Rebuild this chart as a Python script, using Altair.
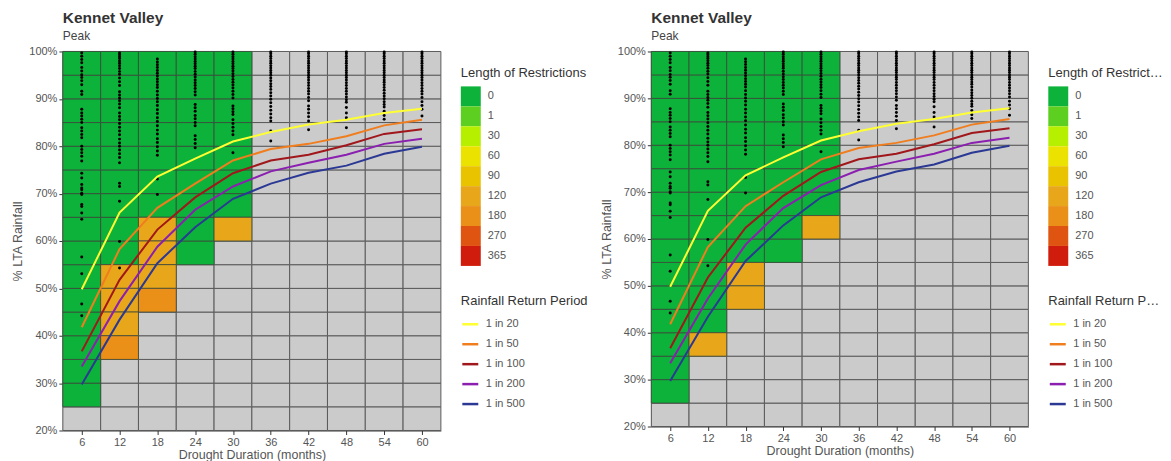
import altair as alt
import pandas as pd

FONT = "Liberation Sans"

durations = [6, 12, 18, 24, 30, 36, 42, 48, 54, 60]
pct_levels = [20, 25, 30, 35, 40, 45, 50, 55, 60, 65, 70, 75, 80, 85, 90, 95]
y_ticks = [20, 25, 30, 35, 40, 45, 50, 55, 60, 65, 70, 75, 80, 85, 90, 95, 100]

restriction_levels = ["0", "1", "30", "60", "90", "120", "180", "270", "365"]
restriction_colors = ["#0DB23A", "#5DCF20", "#B6EF00", "#ECE200", "#EAC300", "#E8A71B",
                      "#EA8F17", "#E05412", "#D01C0C"]

return_periods = ["1 in 20", "1 in 50", "1 in 100", "1 in 200", "1 in 500"]
return_colors = ["#FFFF33", "#F07D1E", "#A0171C", "#8A1FB0", "#2B3894"]

rp_20 = [49.8, 66.0, 73.6, 77.4, 81.0, 83.0, 84.6, 85.6, 87.0, 87.9]
rp_50 = [41.8, 58.3, 67.0, 72.1, 77.0, 79.4, 80.5, 82.1, 84.4, 85.6]
rp_100 = [36.7, 51.8, 62.4, 69.2, 74.3, 77.0, 78.2, 80.2, 82.6, 83.6]
rp_200 = [33.5, 47.3, 58.8, 66.6, 71.5, 74.7, 76.5, 78.2, 80.5, 81.6]
rp_500 = [29.7, 43.4, 55.3, 62.9, 68.9, 72.1, 74.4, 75.9, 78.4, 79.9]

# panel 1: lowest % of the green (no restriction) block, per duration
p1_green_floor = [25, 55, 65, 55, 65, 100, 100, 100, 100, 100]
p1_orange_dur = [12, 12, 12, 12, 18, 18, 18, 18, 30]
p1_orange_low = [50, 45, 40, 35, 60, 55, 50, 45, 60]
p1_orange_len = ["120", "120", "120", "180", "120", "120", "120", "180", "120"]

# panel 2
p2_green_floor = [25, 40, 55, 55, 65, 100, 100, 100, 100, 100]
p2_orange_dur = [12, 18, 18, 30]
p2_orange_low = [35, 50, 45, 60]
p2_orange_len = ["120", "120", "120", "120"]

dots_6 = [99.7, 99.0, 98.3, 97.6, 96.6, 95.9, 95.1, 94.5, 93.8, 93.0, 91.6, 90.9, 87.8, 87.0,
          86.4, 85.7, 85.0, 83.9, 83.2, 82.5, 81.8, 80.0, 79.3, 78.6, 77.9, 76.9, 74.3, 73.3,
          71.9, 71.2, 70.8, 70.1, 69.8, 67.7, 67.3, 65.9, 64.6, 56.6, 53.1, 46.7, 44.2]
dots_12 = [99.7, 99.3, 98.9, 98.5, 98.0, 97.5, 97.0, 96.4, 95.8, 95.2, 94.4, 93.6, 92.8, 91.5,
           90.8, 90.2, 89.6, 88.9, 88.1, 87.0, 86.3, 85.6, 84.8, 84.0, 83.2, 82.4, 81.5, 80.7,
           80.0, 79.2, 78.4, 77.6, 76.5, 72.2, 71.5, 68.4, 59.9, 54.3]
dots_18 = [98.4, 97.8, 97.2, 96.6, 96.0, 95.4, 94.8, 94.2, 93.6, 93.0, 92.4, 91.6, 90.8, 90.1,
           89.4, 88.6, 87.7, 86.9, 86.0, 85.2, 84.3, 83.4, 82.6, 81.6, 80.8, 79.9, 79.0, 78.1,
           73.1, 69.8]
dots_24 = [99.9, 99.4, 98.9, 98.4, 97.9, 97.4, 96.9, 96.4, 95.8, 95.2, 94.6, 94.0, 93.4, 92.8,
           92.2, 91.5, 90.8, 88.8, 88.1, 87.4, 86.5, 85.8, 85.0, 84.3, 82.2, 81.4, 80.6, 79.7]
dots_30 = [99.9, 99.4, 98.9, 98.4, 97.9, 97.4, 96.9, 96.4, 95.9, 95.3, 94.7, 94.1, 93.5, 92.9,
           92.3, 91.6, 90.9, 90.2, 88.5, 87.9, 87.3, 86.7, 85.6, 84.8, 84.0, 83.2, 82.4, 78.6]
dots_36 = [99.9, 99.5, 99.0, 98.5, 98.0, 97.5, 97.0, 96.5, 96.0, 95.5, 95.0, 94.4, 93.8, 93.2,
           92.6, 92.0, 91.3, 90.6, 89.9, 89.2, 88.4, 87.6, 86.8, 86.0, 85.3, 83.2, 81.1]
dots_42 = [99.9, 99.5, 99.0, 98.5, 98.0, 97.5, 97.0, 96.5, 96.0, 95.5, 95.0, 94.5, 94.0, 93.4,
           92.8, 92.2, 91.6, 91.0, 90.3, 89.6, 88.5, 87.8, 87.0, 86.2, 85.3, 83.5]
dots_48 = [99.9, 99.5, 99.0, 98.5, 98.0, 97.5, 97.0, 96.5, 96.0, 95.5, 95.0, 94.5, 94.0, 93.4,
           92.8, 92.2, 91.6, 91.0, 90.4, 89.8, 89.3, 88.2, 87.0, 86.0, 83.9]
dots_54 = [99.9, 99.5, 99.0, 98.5, 98.0, 97.5, 97.0, 96.5, 96.0, 95.5, 95.0, 94.5, 94.0, 93.5,
           93.0, 92.4, 91.8, 91.2, 90.6, 90.0, 89.4, 88.8, 88.3, 87.4, 86.5, 85.7]
dots_60 = [99.9, 99.5, 99.0, 98.5, 98.0, 97.5, 97.0, 96.5, 96.0, 95.5, 95.0, 94.5, 94.0, 93.4,
           92.8, 92.2, 91.6, 91.0, 90.3, 89.4, 88.6, 87.8, 86.4]

dot_lists = [dots_6, dots_12, dots_18, dots_24, dots_30, dots_36, dots_42, dots_48, dots_54, dots_60]
rp_lists = [rp_20, rp_50, rp_100, rp_200, rp_500]

half = (durations[1] - durations[0]) / 2
step = pct_levels[1] - pct_levels[0]

base_rows = [{"x0": d - half, "x1": d + half, "y0": p, "y1": p + step}
             for d in durations for p in pct_levels]
base_df = pd.DataFrame(base_rows)

dots_df = pd.DataFrame([{"dur": d, "val": v} for d, vals in zip(durations, dot_lists) for v in vals])
lines_df = pd.DataFrame([{"dur": d, "val": v, "rp": name, "order": i}
                         for name, vals in zip(return_periods, rp_lists)
                         for i, (d, v) in enumerate(zip(durations, vals))])


def cells(floor, odur, olow, olen):
    rows = []
    for d, f in zip(durations, floor):
        for p in pct_levels:
            if p >= f:
                rows.append({"x0": d - half, "x1": d + half, "y0": p, "y1": p + step, "len": "0"})
    for d, p, l in zip(odur, olow, olen):
        rows.append({"x0": d - half, "x1": d + half, "y0": p, "y1": p + step, "len": l})
    return pd.DataFrame(rows)


xscale = alt.Scale(domain=[durations[0] - half, durations[-1] + half], nice=False, zero=False)
yscale = alt.Scale(domain=[20, 100], nice=False, zero=False)

x_axis = alt.Axis(values=durations, title="Drought Duration (months)", labelPadding=2,
                  titlePadding=1, titleFontWeight="normal", titleFontSize=12.5, grid=False)
y_axis = alt.Axis(values=y_ticks, title="% LTA Rainfall", labelExpr="datum.value + '%'",
                  titleFontWeight="normal", titleFontSize=12.5, grid=False)


def panel(floor, odur, olow, olen, w, h, tlimit):
    grey = alt.Chart(base_df).mark_rect(fill="#CBCBCB", stroke="#5A5A5A", strokeWidth=1).encode(
        x=alt.X("x0:Q", scale=xscale, axis=x_axis),
        x2="x1:Q",
        y=alt.Y("y0:Q", scale=yscale, axis=y_axis),
        y2="y1:Q",
    )
    colored = alt.Chart(cells(floor, odur, olow, olen)).mark_rect(
        stroke="#3C4A3C", strokeOpacity=0.8, strokeWidth=1, opacity=1).encode(
        x=alt.X("x0:Q", scale=xscale),
        x2="x1:Q",
        y=alt.Y("y0:Q", scale=yscale),
        y2="y1:Q",
        color=alt.Color("len:N",
                        scale=alt.Scale(domain=restriction_levels, range=restriction_colors),
                        legend=alt.Legend(title="Length of Restrictions", symbolType="square",
                                          symbolSize=400, symbolStrokeWidth=0, rowPadding=0,
                                          labelOffset=7, titlePadding=6, orient="none",
                                          legendX=w + 20, legendY=16, symbolOpacity=1,
                                          titleFontWeight="normal", titleFontSize=13,
                                          titleLimit=tlimit)),
    )
    dots = alt.Chart(dots_df).mark_circle(size=9, color="black", opacity=1).encode(
        x=alt.X("dur:Q", scale=xscale),
        y=alt.Y("val:Q", scale=yscale),
    )
    lines = alt.Chart(lines_df).mark_line(strokeWidth=2).encode(
        x=alt.X("dur:Q", scale=xscale),
        y=alt.Y("val:Q", scale=yscale),
        order="order:Q",
        stroke=alt.Stroke("rp:N", scale=alt.Scale(domain=return_periods, range=return_colors),
                          legend=alt.Legend(title="Rainfall Return Period", symbolType="stroke",
                                            symbolSize=256, symbolStrokeWidth=2.5, rowPadding=5,
                                            labelOffset=6, titlePadding=7, orient="none",
                                            legendX=w + 20, legendY=244,
                                            titleFontWeight="normal", titleFontSize=13,
                                            titleLimit=tlimit)),
    )
    return alt.layer(grey, colored, dots, lines).properties(
        width=w, height=h,
        title=alt.TitleParams("Kennet Valley", subtitle="Peak", anchor="start", frame="group",
                              fontSize=15.5, fontWeight="bold", color="#333333",
                              subtitleFontSize=12, subtitleColor="#444444", offset=4,
                              subtitlePadding=4, font=FONT, subtitleFont=FONT),
    ).resolve_legend(color="independent", stroke="independent")


p1 = panel(p1_green_floor, p1_orange_dur, p1_orange_low, p1_orange_len, 379, 380, 200)
p2 = panel(p2_green_floor, p2_orange_dur, p2_orange_low, p2_orange_len, 378, 376, 115)

chart = alt.hconcat(p1, p2, spacing=11).resolve_legend(
    color="independent", stroke="independent"
).properties(
    padding={"left": 3, "top": 2, "right": 0, "bottom": 0}
).configure(font=FONT).configure_view(stroke=None).configure_axis(
    labelFont=FONT, labelFontSize=11, labelColor="#555555",
    titleFont=FONT, titleFontSize=12.5, titleFontWeight="normal", titleColor="#555555",
    domainColor="#333333", tickColor="#333333", tickSize=4, grid=False,
).configure_legend(
    titleFont=FONT, titleFontSize=13, titleFontWeight="normal", titleColor="#333333",
    labelFont=FONT, labelFontSize=11, labelColor="#555555",
)

chart.save("out.html", embed_options={"renderer": "svg", "actions": False})
